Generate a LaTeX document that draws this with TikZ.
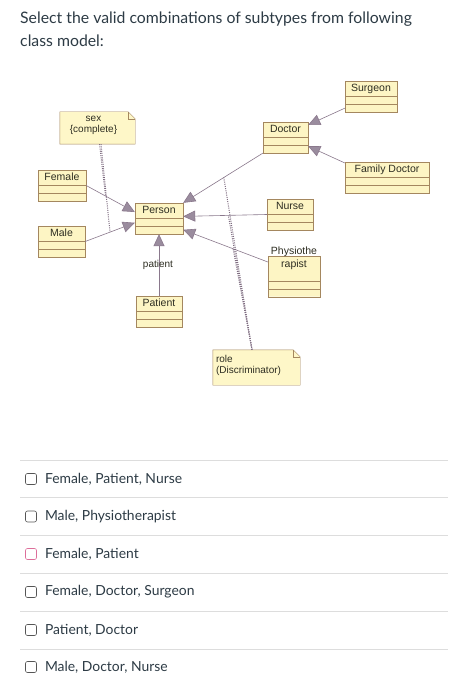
\documentclass[tikz,border=0pt]{standalone}
\usepackage{fontspec}
\usepackage{tikz}
\usetikzlibrary{positioning,arrows.meta,calc,shapes.multipart}
\newfontfamily\latofont{Lato}
\newfontfamily\umlfont{Liberation Sans}
\definecolor{txtgray}{HTML}{2D3B45}
\definecolor{umltext}{HTML}{2E2E22}
\definecolor{boxfill}{HTML}{FDF5C4}
\definecolor{boxline}{HTML}{A4875F}
\definecolor{notefill}{HTML}{FEF7C8}
\definecolor{linkcol}{HTML}{8A788C}
\definecolor{dotcol}{HTML}{7E6C80}
\definecolor{tipcol}{HTML}{9A8C9E}
\definecolor{sepcol}{HTML}{DDDDDD}
\definecolor{chkline}{HTML}{555555}
\definecolor{chkpink}{HTML}{DD6E9A}
\tikzset{
  umlclass/.style={rectangle split,rectangle split parts=3,draw=boxline,fill=boxfill,text=umltext,
    font=\umlfont\fontsize{10.5}{11}\selectfont,inner xsep=1pt,inner ysep=1.6pt,
    rectangle split empty part height=3.3pt,rectangle split empty part depth=0pt,
    text height=8.5pt,text depth=3pt},
  umlnote/.style={font=\umlfont\fontsize{10}{11.5}\selectfont,text=umltext,inner sep=2pt,align=left},
  gen/.style={draw=linkcol,semithick,-{Triangle[length=12pt,width=11pt,fill=tipcol]}},
  discr/.style={draw=dotcol,line width=1pt,dash pattern=on 1pt off 1.2pt},
  chk/.style={draw=chkline,rounded corners=2pt,minimum size=11pt,inner sep=0pt,line width=0.6pt},
  opt/.style={font=\latofont\fontsize{13.9}{16}\selectfont,text=txtgray,inner sep=0pt,anchor=west}
}
\begin{document}
\begin{tikzpicture}[x=1pt,y=-1pt]
\useasboundingbox[fill=white] (0,0) rectangle (463,700);
% question
\node[font=\latofont\fontsize{15.8}{23}\selectfont,text=txtgray,align=left,anchor=north west,inner sep=0pt]
  (question) at (20,12) {Select the valid combinations of subtypes from following\\class model:};
% classes
\node[umlclass,minimum width=52pt] (surgeon) at (371,96.5) {Surgeon\nodepart{two}\nodepart{three}};
\node[umlclass,minimum width=45pt] (doctor) at (285.5,137.5) {Doctor\nodepart{two}\nodepart{three}};
\node[umlclass,minimum width=84pt] (famdoc) at (387,177.5) {Family Doctor\nodepart{two}\nodepart{three}};
\node[umlclass,minimum width=46pt] (nurse) at (290,214.5) {Nurse\nodepart{two}\nodepart{three}};
\node[umlclass,minimum width=52pt,text height=9pt,text depth=12pt] (physio) at (294,276.5)
  {\shortstack{Physiothe\\rapist}\nodepart{two}\nodepart{three}};
\node[umlclass,minimum width=48pt] (person) at (159,218.5) {Person\nodepart{two}\nodepart{three}};
\node[umlclass,minimum width=48pt] (female) at (62,185.5) {Female\nodepart{two}\nodepart{three}};
\node[umlclass,minimum width=47pt] (male) at (61.5,241.5) {Male\nodepart{two}\nodepart{three}};
\node[umlclass,minimum width=46pt] (patient) at (159,311.5) {Patient\nodepart{two}\nodepart{three}};
% notes
\node[umlnote,minimum width=75pt,minimum height=32pt] (sexnote) at (97.5,128) {};
\node[umlnote,minimum width=87pt,minimum height=35pt] (rolenote) at (256.5,367.5) {};
\foreach \nn in {sexnote,rolenote} {
  \draw[draw=boxline,fill=notefill] (\nn.north west) -- ([xshift=-7pt]\nn.north east) -- ([yshift=-7pt]\nn.north east)
    -- (\nn.south east) -- (\nn.south west) -- cycle;
  \draw[draw=boxline] ([xshift=-7pt]\nn.north east) -- ([xshift=-7pt,yshift=-7pt]\nn.north east) -- ([yshift=-7pt]\nn.north east);
}
\node[umlnote,align=center,anchor=north] (sextext) at ([xshift=-4pt,yshift=-2pt]sexnote.north) {sex\\\{complete\}};
\node[umlnote,anchor=north west] (roletext) at ([xshift=1pt,yshift=-3pt]rolenote.north west) {role\\(Discriminator)};
% generalizations
\draw[gen] (female.east) -- (person.165) coordinate[pos=0.4] (femgen);
\draw[gen] (male.east) -- (person.190) coordinate[pos=0.5] (malegen);
\draw[gen] (doctor.south west) -- (person.north east) coordinate[pos=0.49] (docgen);
\draw[gen] (nurse.west) -- (person.5) coordinate[pos=0.46] (nursegen);
\draw[gen] (physio.151) -- (person.-25) coordinate[pos=0.41] (physgen);
\draw[gen] (patient.north) -- (person.south);
\draw[gen] (surgeon.204) -- (doctor.29);
\draw[gen] (famdoc.161) -- (doctor.-21);
\node[font=\umlfont\fontsize{10}{10}\selectfont,text=umltext,inner sep=0pt] (patientlabel) at (158,265) {patient};
% discriminators
\draw[discr] ([xshift=2pt]sexnote.south) -- (femgen);
\draw[discr] ([xshift=3.5pt]sexnote.south) -- (malegen);
\foreach \gg in {docgen,nursegen,physgen} {\draw[discr] ([xshift=-4.5pt]rolenote.north) -- (\gg);}
% answers
\foreach \yy in {460,497.5,535,573,611,649} {\draw[sepcol] (20,\yy) -- (448,\yy);}
\node[chk] (box1) at (31,479) {};
\node[chk] (box2) at (31,516.5) {};
\node[chk,draw=chkpink] (box3) at (31,554) {};
\node[chk] (box4) at (31,592) {};
\node[chk] (box5) at (31,630) {};
\node[chk] (box6) at (31,667) {};
\node[opt,right=8pt of box1] (ans1) {Female, Patient, Nurse};
\node[opt,right=8pt of box2] (ans2) {Male, Physiotherapist};
\node[opt,right=8pt of box3] (ans3) {Female, Patient};
\node[opt,right=8pt of box4] (ans4) {Female, Doctor, Surgeon};
\node[opt,right=8pt of box5] (ans5) {Patient, Doctor};
\node[opt,right=8pt of box6] (ans6) {Male, Doctor, Nurse};
\end{tikzpicture}
\end{document}
